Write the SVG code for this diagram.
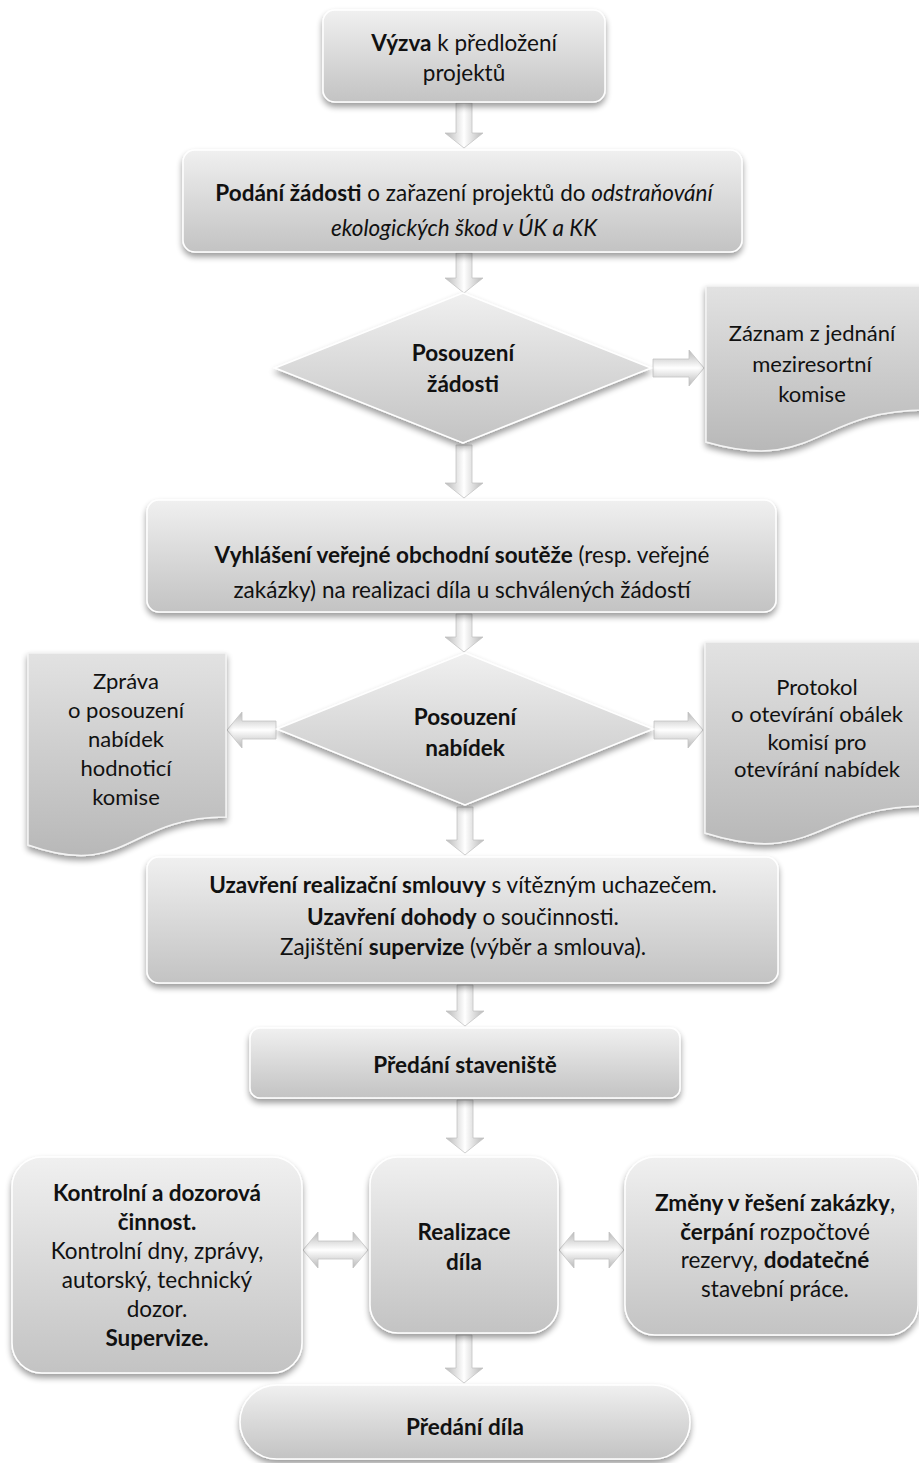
<svg xmlns="http://www.w3.org/2000/svg" width="919" height="1463" viewBox="0 0 919 1463">
<defs>
<linearGradient id="gBox" x1="0" y1="0" x2="0" y2="1">
<stop offset="0" stop-color="#f0f0f0"/><stop offset="0.5" stop-color="#d9d9d9"/><stop offset="1" stop-color="#c3c3c3"/>
</linearGradient>
<linearGradient id="gDoc" x1="0" y1="0" x2="0" y2="1">
<stop offset="0" stop-color="#e2e2e2"/><stop offset="1" stop-color="#b8b8b8"/>
</linearGradient>
<linearGradient id="gV" x1="0" y1="0" x2="1" y2="0">
<stop offset="0" stop-color="#b8b8b8"/><stop offset="0.5" stop-color="#ffffff"/><stop offset="1" stop-color="#b8b8b8"/>
</linearGradient>
<linearGradient id="gH" x1="0" y1="0" x2="0" y2="1">
<stop offset="0" stop-color="#b8b8b8"/><stop offset="0.5" stop-color="#ffffff"/><stop offset="1" stop-color="#b8b8b8"/>
</linearGradient>
<filter id="sh" x="-10%" y="-10%" width="120%" height="135%">
<feGaussianBlur in="SourceAlpha" stdDeviation="3"/>
<feOffset dy="4" result="o"/>
<feComponentTransfer in="o" result="s"><feFuncA type="linear" slope="0.4"/></feComponentTransfer>
<feMerge><feMergeNode in="s"/><feMergeNode in="SourceGraphic"/></feMerge>
</filter>
<style>
.box{fill:url(#gBox);stroke:#ffffff;stroke-width:1.5;filter:url(#sh)}
.doc{fill:url(#gDoc);stroke:#f4f4f4;stroke-width:1.5;filter:url(#sh)}
.av{fill:url(#gV);stroke:#c4c4c4;stroke-width:0.8}
.ah{fill:url(#gH);stroke:#c4c4c4;stroke-width:0.8}
text{font-family:Lato,"Open Sans","Liberation Sans",sans-serif;font-size:22.5px;fill:#111;text-anchor:middle}
.d{font-size:22px}
.b{font-weight:bold}
.i{font-style:italic}
</style>
</defs>

<g id="connectors">
<path class="av" d="M456,103 H472 V133 H483 L464,148 L445,133 H456 Z"/>
<path class="av" d="M456,253 H472 V278 H483 L464,293 L445,278 H456 Z"/>
<path class="av" d="M456,445 H472 V483 H483 L464,498 L445,483 H456 Z"/>
<path class="av" d="M456,614 H472 V637 H483 L464,652 L445,637 H456 Z"/>
<path class="av" d="M457,807 H473 V840 H484 L465,855 L446,840 H457 Z"/>
<path class="av" d="M457,985 H473 V1011 H484 L465,1026 L446,1011 H457 Z"/>
<path class="av" d="M457,1100 H473 V1138 H484 L465,1153 L446,1138 H457 Z"/>
<path class="av" d="M456,1335 H472 V1368 H483 L464,1383 L445,1368 H456 Z"/>
<path class="ah" d="M653,359 H689 V350 L704,368 L689,386 V377 H653 Z"/>
<path class="ah" d="M276,721 H242 V712 L227,730 L242,748 V739 H276 Z"/>
<path class="ah" d="M654,721 H688 V712 L703,730 L688,748 V739 H654 Z"/>
<path class="ah" d="M303,1250 L318,1232 V1241 H353 V1232 L368,1250 L353,1268 V1259 H318 V1268 Z"/>
<path class="ah" d="M559,1250 L574,1232 V1241 H609 V1232 L624,1250 L609,1268 V1259 H574 V1268 Z"/>
</g>

<g id="n-vyzva">
<rect class="box" x="323" y="10" width="282" height="92" rx="12"/>
<text x="464" y="51"><tspan class="b">Výzva</tspan> k předložení</text>
<text x="464" y="81">projektů</text>
</g>

<g id="n-podani">
<rect class="box" x="183" y="150" width="559" height="102" rx="12"/>
<text x="464" y="201"><tspan class="b">Podání žádosti</tspan> o zařazení projektů do <tspan class="i">odstraňování</tspan></text>
<text x="464" y="236" class="i">ekologických škod v ÚK a KK</text>
</g>

<g id="n-posouzeni-zadosti">
<path class="box" d="M463,293 L651,368 L463,443 L275,368 Z"/>
<text x="463" y="361" class="b">Posouzení</text>
<text x="463" y="392" class="b">žádosti</text>
</g>

<g id="n-zaznam">
<path class="doc" d="M706,286 H926 V410 C816,410 816,474 706,442 Z"/>
<text x="812" y="341" class="d">Záznam z jednání</text>
<text x="812" y="372" class="d">meziresortní</text>
<text x="812" y="402" class="d">komise</text>
</g>

<g id="n-vyhlaseni">
<rect class="box" x="147" y="500" width="629" height="112" rx="12"/>
<text x="462" y="563"><tspan class="b">Vyhlášení veřejné obchodní soutěže</tspan> (resp. veřejné</text>
<text x="462" y="598">zakázky) na realizaci díla u schválených žádostí</text>
</g>

<g id="n-posouzeni-nabidek">
<path class="box" d="M465,653 L653,729 L465,805 L277,729 Z"/>
<text x="465" y="725" class="b">Posouzení</text>
<text x="465" y="756" class="b">nabídek</text>
</g>

<g id="n-zprava">
<path class="doc" d="M28,653 H226 V817 C127,817 127,880 28,845 Z"/>
<text x="126" y="689" class="d">Zpráva</text>
<text x="126" y="718" class="d">o posouzení</text>
<text x="126" y="747" class="d">nabídek</text>
<text x="126" y="776" class="d">hodnoticí</text>
<text x="126" y="805" class="d">komise</text>
</g>

<g id="n-protokol">
<path class="doc" d="M705,642 H926 V806 C816,806 816,868 705,833 Z"/>
<text x="817" y="695" class="d">Protokol</text>
<text x="817" y="722" class="d">o otevírání obálek</text>
<text x="817" y="750" class="d">komisí pro</text>
<text x="817" y="777" class="d">otevírání nabídek</text>
</g>

<g id="n-uzavreni">
<rect class="box" x="147" y="857" width="631" height="126" rx="12"/>
<text x="463" y="893"><tspan class="b">Uzavření realizační smlouvy</tspan> s vítězným uchazečem.</text>
<text x="463" y="925"><tspan class="b">Uzavření dohody</tspan> o součinnosti.</text>
<text x="463" y="955">Zajištění <tspan class="b">supervize</tspan> (výběr a smlouva).</text>
</g>

<g id="n-predani-stav">
<rect class="box" x="250" y="1028" width="430" height="70" rx="10"/>
<text x="465" y="1073" class="b">Předání staveniště</text>
</g>

<g id="n-kontrolni">
<rect class="box" x="12" y="1157" width="290" height="216" rx="30"/>
<text x="157" y="1201" class="b">Kontrolní a dozorová</text>
<text x="157" y="1230" class="b">činnost.</text>
<text x="157" y="1259">Kontrolní dny, zprávy,</text>
<text x="157" y="1288">autorský, technický</text>
<text x="157" y="1317">dozor.</text>
<text x="157" y="1346" class="b">Supervize.</text>
</g>

<g id="n-realizace">
<rect class="box" x="370" y="1157" width="188" height="176" rx="28"/>
<text x="464" y="1240" class="b">Realizace</text>
<text x="464" y="1270" class="b">díla</text>
</g>

<g id="n-zmeny">
<rect class="box" x="625" y="1157" width="293" height="178" rx="30"/>
<text x="775" y="1211"><tspan class="b">Změny v řešení zakázky</tspan>,</text>
<text x="775" y="1240"><tspan class="b">čerpání</tspan> rozpočtové</text>
<text x="775" y="1268">rezervy, <tspan class="b">dodatečné</tspan></text>
<text x="775" y="1297">stavební práce.</text>
</g>

<g id="n-predani-dila">
<rect class="box" x="240" y="1385" width="450" height="74" rx="37"/>
<text x="465" y="1435" class="b">Předání díla</text>
</g>
</svg>
